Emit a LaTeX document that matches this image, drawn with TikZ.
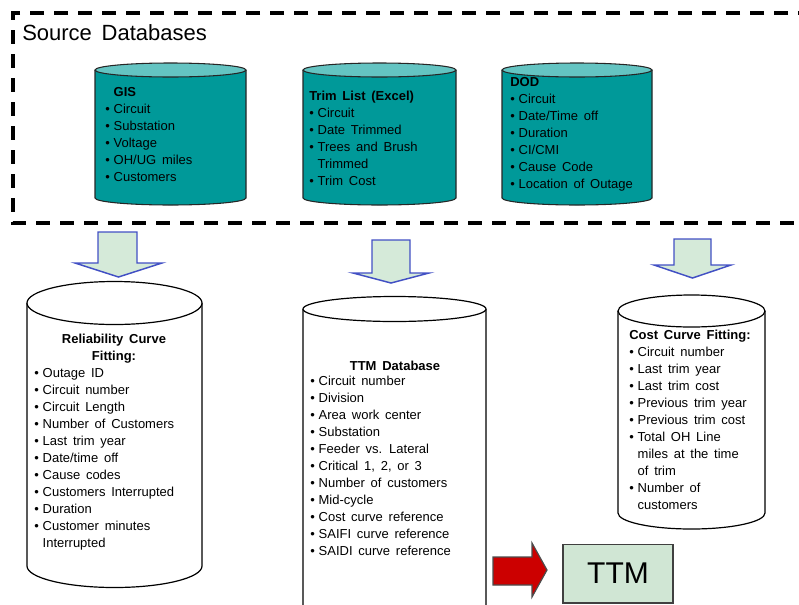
\documentclass[tikz,border=0pt]{standalone}
\usepackage{fontspec}
\setmainfont{Liberation Sans}[WordSpace=1.6]
\definecolor{tealbody}{RGB}{0,153,153}
\definecolor{tealtop}{RGB}{100,196,194}
\definecolor{paleGreen}{RGB}{213,234,217}
\definecolor{arrowBlue}{RGB}{66,80,196}
\definecolor{ttmRed}{RGB}{204,0,0}
\definecolor{boxGreen}{RGB}{208,230,212}
\newcommand\itm{\makebox[6.3pt][l]{\textbullet}}
% left x, right x, top y, bottom y, y radius, body style, top fill
\newcommand\dbcyl[7]{%
  \pgfmathsetmacro\cylcx{(#1+#2)/2}\pgfmathsetmacro\cylrx{(#2-#1)/2}
  \draw[#6] (#1,#3) -- (#1,#4) arc[start angle=180,end angle=360,x radius=\cylrx,y radius=#5] -- (#2,#3);
  \draw[#6,fill=#7] (\cylcx,#3) ellipse[x radius=\cylrx,y radius=#5];}
% shaft left, shaft right, top, shoulder, head left, head right, tip y
\newcommand\downblock[7]{%
  \draw[blockarrow] (#1,#3) -- (#2,#3) -- (#2,#4) -- (#6,#4) -- ({(#5+#6)/2},#7)
    -- (#5,#4) -- (#1,#4) -- cycle;}
\tikzset{
  topdb/.style={draw=black!85, fill=tealbody, line width=0.8pt},
  lowdb/.style={draw=black, fill=white, line width=0.9pt},
  blockarrow/.style={draw=arrowBlue, fill=paleGreen, line width=1.1pt, line join=miter},
  dbtext/.style={font=\fontsize{9.75}{12.75}\selectfont, align=left, anchor=north west, inner sep=0pt},
  dbtitle/.style={font=\fontsize{9.75}{12.75}\selectfont\bfseries, align=center, inner sep=0pt}
}
\begin{document}
\begin{tikzpicture}[x=0.75pt,y=0.75pt]
  \useasboundingbox (0,0) rectangle (799,-604);
  \clip (0,0) rectangle (799,-604);
  \draw[line width=2.5pt, dash pattern=on 10.5pt off 7.5pt]
    (812,-13) -- (13,-13) -- (13,-223) -- (812,-223);
  \node[anchor=west, inner sep=0pt, font=\fontsize{16.5}{20}\selectfont] (src) at (22,-33) {Source Databases};
  \dbcyl{95}{246}{-70}{-198}{7}{topdb}{tealtop}
  \dbcyl{303}{456}{-70}{-198}{7}{topdb}{tealtop}
  \dbcyl{502}{652}{-70}{-198}{7}{topdb}{tealtop}
  \node[dbtext] (gis) at (105,-87)
    {\hspace*{6.3pt}\textbf{GIS}\\ \itm Circuit\\ \itm Substation\\ \itm Voltage\\ \itm OH/UG miles\\ \itm Customers};
  \node[dbtext] (trim) at (309,-91)
    {\textbf{Trim List (Excel)}\\ \itm Circuit\\ \itm Date Trimmed\\ \itm Trees and Brush\\ \hspace*{6.3pt}Trimmed\\ \itm Trim Cost};
  \node[dbtext] (dod) at (510,-77)
    {\textbf{DOD}\\ \itm Circuit\\ \itm Date/Time off\\ \itm Duration\\ \itm CI/CMI\\ \itm Cause Code\\ \itm Location of Outage};
  \downblock{98}{137}{-232}{-263}{75}{162}{-277}
  \downblock{372}{410}{-240}{-273}{353}{429}{-283}
  \downblock{674}{711}{-239}{-265}{654}{731}{-278}
  \dbcyl{27}{202}{-303}{-566}{21.5}{lowdb}{white}
  \dbcyl{303}{486}{-309}{-660}{12.5}{lowdb}{white}
  \dbcyl{618}{765}{-311}{-513}{16}{lowdb}{white}
  \node[dbtitle] (reltitle) at (114,-349) {Reliability Curve\\Fitting:};
  \node[dbtext] (rel) at (34,-368)
    {\itm Outage ID\\ \itm Circuit number\\ \itm Circuit Length\\ \itm Number of Customers\\ \itm Last trim year\\
     \itm Date/time off\\ \itm Cause codes\\ \itm Customers Interrupted\\ \itm Duration\\ \itm Customer minutes\\
     \hspace*{6.3pt}Interrupted};
  \node[dbtitle] (ttmtitle) at (395,-366) {TTM Database};
  \node[dbtext] (ttmdb) at (310,-376)
    {\itm Circuit number\\ \itm Division\\ \itm Area work center\\ \itm Substation\\ \itm Feeder vs. Lateral\\
     \itm Critical 1, 2, or 3\\ \itm Number of customers\\ \itm Mid-cycle\\ \itm Cost curve reference\\
     \itm SAIFI curve reference\\ \itm SAIDI curve reference};
  \node[dbtext] (cost) at (629,-330)
    {\textbf{Cost Curve Fitting:}\\ \itm Circuit number\\ \itm Last trim year\\ \itm Last trim cost\\
     \itm Previous trim year\\ \itm Previous trim cost\\ \itm Total OH Line\\ \hspace*{6.3pt}miles at the time\\
     \hspace*{6.3pt}of trim\\ \itm Number of\\ \hspace*{6.3pt}customers};
  \draw[draw=black!70, fill=ttmRed, line width=0.9pt]
    (493,-557) -- (532,-557) -- (532,-543) -- (547,-570) -- (532,-597) -- (532,-585) -- (493,-585) -- cycle;
  \node[draw=black!75, fill=boxGreen, line width=1pt, minimum width=82.5pt, minimum height=44pt,
    font=\fontsize{22.5}{26}\selectfont] (ttm) at (618,-573.5) {TTM};
\end{tikzpicture}
\end{document}
